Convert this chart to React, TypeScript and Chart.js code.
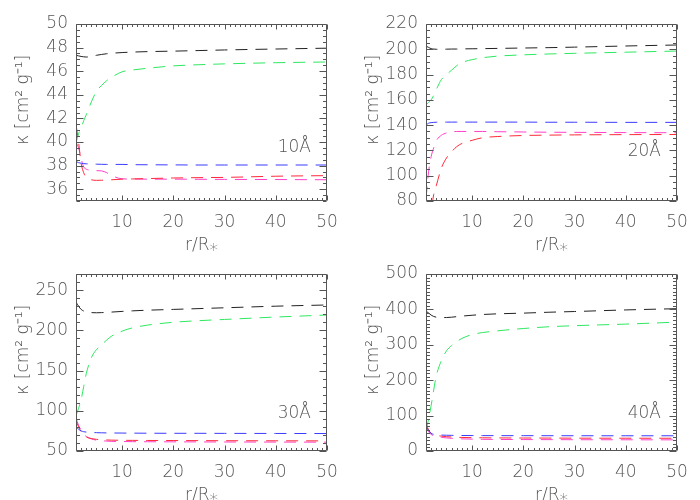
import React, { useEffect, useRef } from 'react';
import { Chart, registerables } from 'chart.js';

Chart.register(...registerables);

// ---------- data ----------
const rGrid = [1, 1.5, 2, 2.5, 3, 4, 5, 6, 7, 8, 10, 12, 15, 20, 25, 30, 40, 50];
const xTickValues = [10, 20, 30, 40, 50];

// 10 Å
const k10Black = [47.35, 47.3, 47.25, 47.22, 47.2, 47.25, 47.35, 47.42, 47.48, 47.52, 47.58, 47.62, 47.66, 47.7, 47.75, 47.8, 47.88, 47.95];
const k10Green = [39.9, 40.7, 41.2, 41.8, 42.3, 43.4, 44.3, 44.8, 45.2, 45.5, 45.95, 46.1, 46.25, 46.45, 46.55, 46.62, 46.72, 46.78];
const k10Blue = [38.35, 38.25, 38.2, 38.17, 38.15, 38.13, 38.12, 38.11, 38.1, 38.1, 38.1, 38.08, 38.07, 38.06, 38.05, 38.05, 38.05, 38.05];
const k10Red = [41.5, 40.0, 38.2, 37.4, 37.0, 36.8, 36.75, 36.76, 36.78, 36.8, 36.85, 36.87, 36.9, 36.95, 36.98, 37.0, 37.1, 37.15];
const k10Magenta = [40.0, 39.5, 38.6, 37.9, 37.7, 37.6, 37.57, 37.55, 37.4, 37.15, 36.88, 36.86, 36.85, 36.85, 36.84, 36.83, 36.82, 36.8];

// 20 Å
const k20Black = [202.5, 201.5, 200.5, 200.2, 200, 200, 200.1, 200.2, 200.2, 200.3, 200.4, 200.5, 200.7, 201, 201.3, 201.7, 202.6, 203.4];
const k20Green = [156, 158, 160, 163.5, 168, 176, 180, 183.5, 187, 189.5, 191.8, 193.3, 194.6, 195.6, 196.3, 196.8, 197.7, 198.6];
const k20Blue = [140, 141.5, 142, 142.2, 142.3, 142.4, 142.4, 142.4, 142.4, 142.4, 142.4, 142.4, 142.4, 142.4, 142.3, 142.3, 142.2, 142.2];
const k20Red = [45, 58, 72, 85, 92, 106, 114, 119, 123, 125.5, 128, 130, 131, 131.8, 132.1, 132.3, 132.5, 132.6];
const k20Magenta = [82, 103, 115, 122, 127.5, 132, 133.8, 134.6, 135, 135, 135, 135, 134.8, 134.6, 134.4, 134.3, 134.1, 134];

// 30 Å
const k30Black = [235, 230, 226, 224, 222.8, 222, 221.8, 222, 222.3, 222.7, 223.5, 224.2, 225, 226, 227, 228, 230, 231.5];
const k30Green = [94, 103, 114, 130, 146, 166, 176, 182, 188, 193, 199, 203, 206.5, 210, 212, 213.5, 216.5, 219];
const k30Blue = [80, 77, 75, 74, 73.5, 73, 72.8, 72.6, 72.5, 72.4, 72.3, 72.2, 72.1, 72, 72, 71.9, 71.8, 71.7];
const k30Red = [88, 80, 74, 70, 67.5, 65.5, 64.5, 64, 63.7, 63.5, 63.3, 63.2, 63.1, 63, 62.9, 62.8, 62.7, 62.6];
const k30Magenta = [91, 82, 76, 71, 68, 65, 63.5, 62.8, 62.3, 62, 61.8, 61.6, 61.5, 61.4, 61.3, 61.2, 61.1, 61];

// 40 Å
const k40Black = [395, 390, 384, 380, 378, 377, 377, 378, 379.5, 381, 383.5, 385.5, 387.5, 389.5, 392, 394, 398.5, 402];
const k40Green = [55, 90, 128, 172, 212, 255, 283, 298, 309, 318, 329, 334.5, 339.5, 346, 351, 354, 358.5, 364];
const k40Blue = [72, 58, 50, 47, 46, 45, 44.5, 44.2, 44, 43.8, 43.6, 43.5, 43.4, 43.3, 43.2, 43.1, 43, 43];
const k40Red = [78, 60, 50, 46, 44, 42, 40.5, 39.5, 38.8, 38.3, 37.7, 37.3, 37, 36.7, 36.5, 36.3, 36.1, 36];
const k40Magenta = [70, 55, 47, 43, 41, 38.5, 37, 35.8, 35, 34.3, 33.5, 33, 32.6, 32.3, 32.1, 31.9, 31.7, 31.5];

const panelNames = ['10Å', '20Å', '30Å', '40Å'];
const yMins = [35, 80, 50, 0];
const yMaxs = [50, 220, 270, 500];
const yTickValues = [
  [36, 38, 40, 42, 44, 46, 48, 50],
  [80, 100, 120, 140, 160, 180, 200, 220],
  [50, 100, 150, 200, 250],
  [0, 100, 200, 300, 400, 500],
];
const yMinorSteps = [0.5, 5, 10, 10];
const seriesNames = ['black', 'green', 'blue', 'red', 'magenta'];

const panelSeries = [
  [k10Black, k10Green, k10Blue, k10Red, k10Magenta],
  [k20Black, k20Green, k20Blue, k20Red, k20Magenta],
  [k30Black, k30Green, k30Blue, k30Red, k30Magenta],
  [k40Black, k40Green, k40Blue, k40Red, k40Magenta],
];

// ---------- styles ----------
const seriesColors = ['#222222', '#2ee860', '#3b3bff', '#ff2a3a', '#ff3fc8'];
const textColor = '#555555';
const axisColor = '#555555';
const fontFamily = '"DejaVu Sans", sans-serif';
const labelCenterY = [148, 152, 164, 164];
const labelRight = 311;

const framePlugin = {
  id: 'kappaFrame',
  afterDraw(chart: any, _args: any, opts: any) {
    const idx = (opts && typeof opts.panel === 'number') ? opts.panel : 0;
    const { ctx, chartArea: a } = chart;
    const xs = chart.scales.x;
    const ys = chart.scales.y;
    ctx.save();
    ctx.setLineDash([]);
    ctx.strokeStyle = axisColor;
    ctx.lineWidth = 1;
    ctx.beginPath();
    const L = Math.round(a.left) + 0.5;
    const R = Math.round(a.right) - 0.5;
    const T = Math.round(a.top) + 0.5;
    const B = Math.round(a.bottom) - 0.5;
    ctx.moveTo(L, T);
    ctx.lineTo(R, T);
    ctx.lineTo(R, B);
    ctx.lineTo(L, B);
    ctx.closePath();
    for (let v = 1; v <= 50 + 1e-9; v += 1) {
      const px = Math.round(xs.getPixelForValue(v)) + 0.5;
      const major = v % 10 === 0;
      const len = major ? 5 : 2.5;
      ctx.moveTo(px, B);
      ctx.lineTo(px, B - len);
      ctx.moveTo(px, T);
      ctx.lineTo(px, T + len);
    }
    const step = yMinorSteps[idx];
    const majors = yTickValues[idx];
    const n = Math.round((yMaxs[idx] - yMins[idx]) / step);
    for (let k = 0; k <= n; k++) {
      const v = yMins[idx] + k * step;
      const py = Math.round(ys.getPixelForValue(v)) + 0.5;
      const major = majors.some((m) => Math.abs(m - v) < 1e-6);
      const len = major ? 7 : 3.5;
      ctx.moveTo(L, py);
      ctx.lineTo(L + len, py);
      ctx.moveTo(R, py);
      ctx.lineTo(R - len, py);
    }
    ctx.stroke();
    ctx.fillStyle = textColor;
    ctx.font = `300 17px ${fontFamily}`;
    ctx.textAlign = 'right';
    ctx.textBaseline = 'middle';
    ctx.fillText(panelNames[idx], labelRight, labelCenterY[idx]);
    ctx.restore();
  },
};

function Panel({ idx }: { idx: number }) {
  const ref = useRef<HTMLCanvasElement>(null);
  useEffect(() => {
    const canvas = ref.current;
    if (!canvas) return;
    const font = { family: fontFamily, size: 17, weight: '300' as any };
    const titleFont = { family: fontFamily, size: 17, weight: '300' as any };
    const chart = new Chart(canvas, {
      type: 'line',
      data: {
        datasets: panelSeries[idx].map((vals, s) => ({
          label: seriesNames[s],
          data: rGrid.map((r, i) => ({ x: r, y: vals[i] })),
          borderColor: seriesColors[s],
          backgroundColor: seriesColors[s],
          borderWidth: 1,
          borderDash: [12, 8],
          pointRadius: 0,
          cubicInterpolationMode: 'monotone' as const,
          fill: false,
        })),
      },
      options: {
        animation: false,
        responsive: false,
        maintainAspectRatio: false,
        layout: { padding: { top: 24, right: 23, left: 0, bottom: 0 } },
        plugins: {
          legend: { display: false },
          tooltip: { enabled: false },
          kappaFrame: { panel: idx },
        } as any,
        scales: {
          x: {
            type: 'linear',
            min: 1,
            max: 50,
            afterBuildTicks: (s: any) => {
              s.ticks = xTickValues.map((v) => ({ value: v }));
            },
            afterFit: (s: any) => {
              s.height = 61;
            },
            grid: { display: false, drawTicks: false },
            border: { display: false },
            ticks: { padding: 11, font, color: textColor, maxRotation: 0, autoSkip: false },
            title: {
              display: true,
              text: 'r/R\u204E',
              font: titleFont,
              color: textColor,
              padding: { top: 0, bottom: 6 },
            },
          },
          y: {
            type: 'linear',
            min: yMins[idx],
            max: yMaxs[idx],
            afterBuildTicks: (s: any) => {
              s.ticks = yTickValues[idx].map((v) => ({ value: v }));
            },
            afterFit: (s: any) => {
              s.width = 76;
            },
            grid: { display: false, drawTicks: false },
            border: { display: false },
            ticks: { padding: 8, font, color: textColor, autoSkip: false },
            title: {
              display: true,
              text: '\u2003\u2002κ [cm² g⁻¹]',
              font: titleFont,
              color: textColor,
              padding: { top: 13, bottom: 0 },
            },
          },
        },
      } as any,
      plugins: [framePlugin],
    });
    return () => chart.destroy();
  }, [idx]);
  return (
    <canvas
      ref={ref}
      width={350}
      height={262}
      style={{
        position: 'absolute',
        left: (idx % 2) * 350,
        top: Math.floor(idx / 2) * 250,
        width: 350,
        height: 262,
      }}
    />
  );
}

export default function App() {
  return (
    <div
      style={{
        position: 'fixed',
        left: 0,
        top: 0,
        width: 700,
        height: 500,
        overflow: 'hidden',
        background: '#ffffff',
      }}
    >
      {[0, 1, 2, 3].map((i) => (
        <Panel key={i} idx={i} />
      ))}
    </div>
  );
}
